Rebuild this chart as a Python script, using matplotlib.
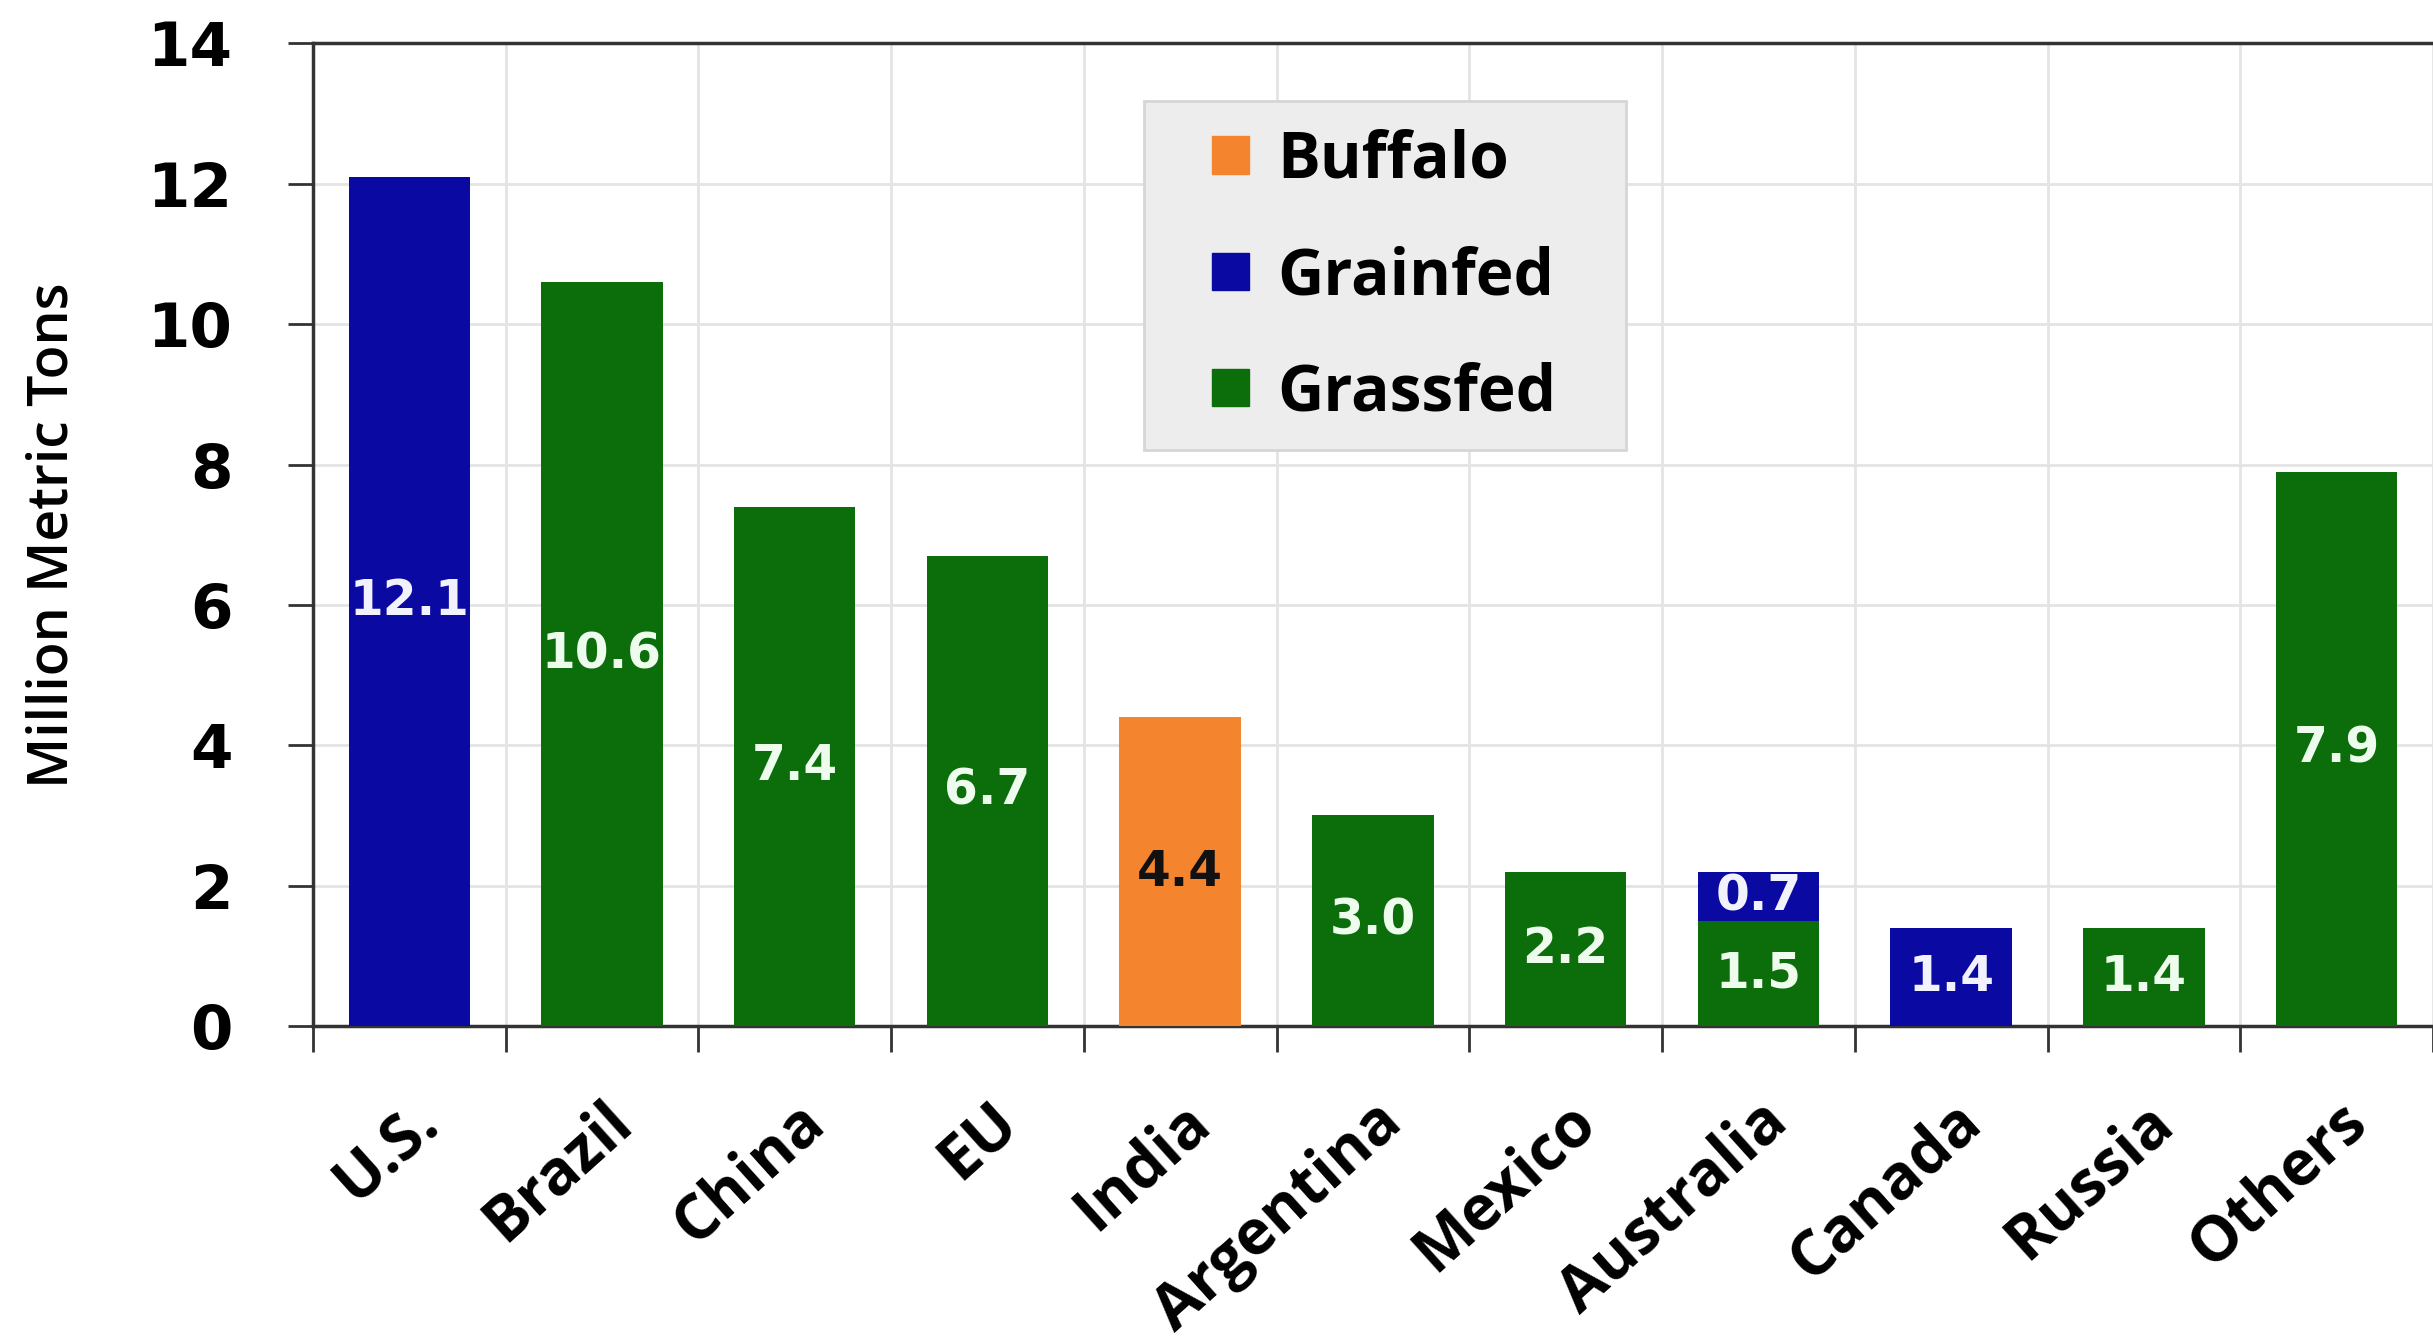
import matplotlib
matplotlib.use("Agg")
import matplotlib.pyplot as plt
from matplotlib.patches import Patch, Rectangle
import numpy as np

categories = ["U.S.", "Brazil", "China", "EU", "India", "Argentina", "Mexico",
              "Australia", "Canada", "Russia", "Others"]
grassfed = [0, 10.6, 7.4, 6.7, 0, 3.0, 2.2, 1.5, 0, 1.4, 7.9]
grainfed = [12.1, 0, 0, 0, 0, 0, 0, 0.7, 1.4, 0, 0]
buffalo = [0, 0, 0, 0, 4.4, 0, 0, 0, 0, 0, 0]
yticks = [0, 2, 4, 6, 8, 10, 12, 14]

c_grass = "#0b6e0b"
c_grain = "#0a0aa2"
c_buff = "#f5842f"

plt.rcParams['font.family'] = ['Open Sans', 'DejaVu Sans']
NUMFONT = ['DejaVu Sans']

fig = plt.figure(figsize=(24.33, 13.42), dpi=100)
ax = fig.add_axes([0.1286, 0.2355, 0.8714, 0.7321])

x = np.arange(len(categories))
w = 0.63
grass = np.array(grassfed)
grain = np.array(grainfed)
buff = np.array(buffalo)

ax.bar(x, grass, w, color=c_grass, zorder=3)
ax.bar(x, grain, w, bottom=grass, color=c_grain, zorder=3)
ax.bar(x, buff, w, bottom=grass + grain, color=c_buff, zorder=3)

lab_kw = dict(ha="center", va="center", fontsize=35, fontweight="bold",
              family=NUMFONT, zorder=4)
for i in range(len(categories)):
    if grass[i] > 0:
        ax.text(x[i], grass[i] / 2, f"{grass[i]:.1f}", color="#eefcee", **lab_kw)
    if grain[i] > 0:
        ax.text(x[i], grass[i] + grain[i] / 2, f"{grain[i]:.1f}", color="#f2f2ff", **lab_kw)
    if buff[i] > 0:
        ax.text(x[i], grass[i] + grain[i] + buff[i] / 2, f"{buff[i]:.1f}", color="#111111", **lab_kw)

ax.set_xlim(-0.5, len(categories) - 0.5)
ax.set_ylim(0, 14)
ax.set_yticks(yticks)
ax.set_yticklabels([str(v) for v in yticks], fontsize=44, fontweight="bold",
                   family=NUMFONT)
ax.set_xticks(x)
ax.set_xticklabels(categories, rotation=42, ha="right", rotation_mode="anchor",
                   fontsize=45, fontweight="bold")
ax.tick_params(axis="x", which="major", length=0, pad=46)
ax.set_xticks(np.arange(-0.5, len(categories), 1), minor=True)
ax.tick_params(axis="x", which="minor", length=19, width=2, direction="out", color="#333333")
ax.tick_params(axis="y", length=18, width=2, direction="out", color="#333333", pad=40)

ax.grid(True, axis="y", color="#e4e4e4", linewidth=2, zorder=0)
ax.grid(True, axis="x", which="minor", color="#e4e4e4", linewidth=2, zorder=0)

for s in ["left", "bottom", "top"]:
    ax.spines[s].set_color("#333333")
    ax.spines[s].set_linewidth(2.5)
ax.spines["right"].set_visible(False)

ax.set_ylabel("Million Metric Tons", fontsize=40, fontweight="semibold")
ax.yaxis.set_label_coords(-0.109, 0.5)

# legend box
ax.add_patch(Rectangle((0.392, 0.5863), 0.2273, 0.3552, transform=ax.transAxes,
                       facecolor="#ededed", edgecolor="#d6d6d6", linewidth=2,
                       zorder=5))
handles = [Patch(color=c_buff, label="Buffalo"),
           Patch(color=c_grain, label="Grainfed"),
           Patch(color=c_grass, label="Grassfed")]
leg = ax.legend(handles=handles, loc="upper left", bbox_to_anchor=(0.424, 0.913),
                prop={"weight": "bold", "size": 46, "family": "Open Sans"},
                handlelength=0.58, handleheight=0.53, handletextpad=0.45,
                labelspacing=0.8, borderpad=0, borderaxespad=0, frameon=False)
leg.set_zorder(6)

fig.savefig("out.png", dpi=100)
